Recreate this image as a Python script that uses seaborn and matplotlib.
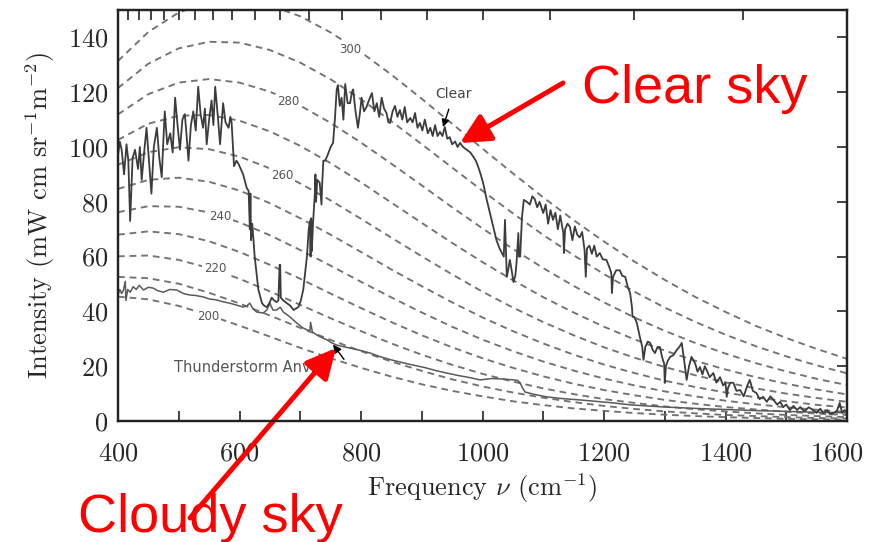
import matplotlib
matplotlib.use("Agg")
import matplotlib.pyplot as plt
import matplotlib.transforms as mtransforms
import seaborn as sns
import pandas as pd

# ---------------- data ----------------
planck_nu = [400, 450, 500, 550, 600, 650, 700, 750, 800, 850, 900, 950, 1000,
             1050, 1100, 1150, 1200, 1250, 1300, 1350, 1400, 1450, 1500, 1550, 1600]
b300 = [131.4, 142.0, 149.1, 152.9, 153.6, 151.7, 147.7, 141.8, 134.6, 126.4, 117.6, 108.5, 99.4,
        90.4, 81.6, 73.3, 65.5, 58.2, 51.5, 45.3, 39.8, 34.7, 30.3, 26.3, 22.7]
b290 = [121.5, 130.4, 136.0, 138.4, 138.1, 135.4, 130.8, 124.7, 117.4, 109.4, 101.0, 92.5, 84.0,
        75.8, 67.9, 60.5, 53.6, 47.2, 41.4, 36.2, 31.5, 27.3, 23.6, 20.3, 17.4]
b280 = [111.9, 119.3, 123.5, 124.8, 123.5, 120.2, 115.1, 108.8, 101.6, 93.9, 86.0, 78.0, 70.3,
        62.8, 55.8, 49.3, 43.3, 37.8, 32.9, 28.5, 24.6, 21.1, 18.1, 15.4, 13.1]
b270 = [102.6, 108.5, 111.4, 111.7, 109.6, 105.7, 100.4, 94.1, 87.1, 79.7, 72.3, 65.0, 58.0,
        51.4, 45.2, 39.6, 34.4, 29.8, 25.7, 22.0, 18.8, 16.0, 13.6, 11.5, 9.7]
b260 = [93.5, 98.1, 99.9, 99.2, 96.5, 92.2, 86.7, 80.5, 73.8, 66.9, 60.1, 53.5, 47.2,
        41.4, 36.1, 31.3, 26.9, 23.1, 19.7, 16.7, 14.1, 11.9, 10.0, 8.4, 7.0]
b250 = [84.7, 88.0, 88.8, 87.3, 84.1, 79.5, 74.0, 68.0, 61.7, 55.3, 49.2, 43.3, 37.8,
        32.8, 28.3, 24.2, 20.6, 17.5, 14.7, 12.4, 10.4, 8.6, 7.2, 5.9, 4.9]
b240 = [76.2, 78.4, 78.2, 76.1, 72.5, 67.8, 62.4, 56.7, 50.8, 45.1, 39.6, 34.4, 29.7,
        25.5, 21.7, 18.4, 15.5, 13.0, 10.8, 9.0, 7.4, 6.1, 5.0, 4.1, 3.3]
b230 = [68.0, 69.2, 68.2, 65.6, 61.7, 57.0, 51.9, 46.5, 41.2, 36.1, 31.3, 26.9, 22.9,
        19.4, 16.3, 13.6, 11.3, 9.4, 7.7, 6.3, 5.1, 4.2, 3.4, 2.7, 2.2]
b220 = [60.1, 60.4, 58.8, 55.8, 51.9, 47.3, 42.4, 37.5, 32.8, 28.3, 24.2, 20.5, 17.2,
        14.4, 11.9, 9.8, 8.0, 6.6, 5.3, 4.3, 3.5, 2.8, 2.2, 1.8, 1.4]
b210 = [52.6, 52.1, 50.1, 46.8, 42.9, 38.5, 34.0, 29.6, 25.5, 21.7, 18.3, 15.2, 12.6,
        10.4, 8.5, 6.9, 5.5, 4.4, 3.5, 2.8, 2.2, 1.8, 1.4, 1.1, 0.9]
b200 = [45.4, 44.4, 42.0, 38.6, 34.8, 30.8, 26.7, 22.9, 19.4, 16.2, 13.4, 11.0, 9.0,
        7.2, 5.8, 4.6, 3.7, 2.9, 2.3, 1.8, 1.4, 1.1, 0.8, 0.6, 0.5]
planck_temps = [300, 290, 280, 270, 260, 250, 240, 230, 220, 210, 200]
planck_curves = [b300, b290, b280, b270, b260, b250, b240, b230, b220, b210, b200]

clear_nu = [400, 403, 406, 410, 414, 417, 420, 424, 428, 433, 436, 439, 443, 447, 451, 455,
            459, 464, 468, 472, 475, 477, 481, 486, 490, 494, 498, 502, 506, 510, 513, 516,
            520, 524, 528, 532, 536, 540, 543, 546, 550, 554, 557, 560, 564, 568, 571, 573,
            577, 582, 585, 587, 591, 595, 598, 602, 606, 612, 615, 617, 618, 619, 621, 625,
            631, 637, 641, 645, 649, 653, 657, 661, 664, 666, 667, 668, 672, 678, 684, 689,
            697, 701, 705, 711, 714, 716, 717, 718, 719, 721, 724, 725, 726, 728, 732, 735,
            736, 738, 741, 745, 750, 754, 757, 760, 762, 765, 768, 771, 774, 778, 782, 785,
            787, 791, 795, 798, 801, 805, 809, 813, 818, 822, 826, 830, 834, 838, 842, 845,
            848, 852, 856, 860, 864, 868, 872, 876, 881, 885, 889, 893, 897, 901, 905, 910,
            914, 918, 922, 926, 930, 934, 938, 942, 946, 950, 955, 959, 963, 968, 974, 980,
            985, 989, 993, 997, 1001, 1007, 1015, 1023, 1028, 1032, 1035, 1037, 1039, 1040,
            1043, 1045, 1048, 1051, 1054, 1056, 1059, 1060, 1062, 1065, 1068, 1073, 1078,
            1082, 1086, 1090, 1094, 1100, 1104, 1108, 1112, 1116, 1120, 1124, 1128, 1133,
            1134, 1136, 1140, 1144, 1148, 1152, 1156, 1160, 1164, 1168, 1170, 1172, 1176,
            1180, 1184, 1188, 1193, 1198, 1204, 1209, 1212, 1213, 1215, 1220, 1226, 1230,
            1235, 1239, 1243, 1246, 1247, 1250, 1254, 1259, 1263, 1265, 1268, 1272, 1276,
            1280, 1284, 1288, 1292, 1296, 1299, 1300, 1302, 1305, 1309, 1314, 1320, 1324,
            1328, 1332, 1336, 1340, 1344, 1350, 1354, 1358, 1362, 1366, 1369, 1374, 1380,
            1385, 1391, 1396, 1400, 1402, 1404, 1408, 1413, 1418, 1424, 1430, 1436, 1440,
            1445, 1451, 1456, 1462, 1468, 1474, 1479, 1485, 1490, 1495, 1500, 1506, 1512,
            1518, 1523, 1530, 1537, 1544, 1550, 1556, 1561, 1567, 1572, 1577, 1583, 1588,
            1592, 1596, 1600]
clear_val = [97, 102, 99, 90, 101, 95, 73, 96, 99, 92, 100, 88, 98, 107, 95, 83,
             100, 107, 96, 89, 104, 113, 101, 105, 98, 118, 108, 99, 110, 112, 104, 95,
             108, 113, 106, 122, 112, 107, 114, 101, 110, 117, 108, 122, 112, 101, 110, 116,
             109, 107, 111, 109, 93, 95, 94, 92, 90, 85, 84, 70, 83, 66, 72, 60,
             48, 43, 42, 41.6, 43, 45, 44, 43.4, 44, 57, 57, 45, 44, 43, 42, 40.5,
             41.6, 44, 48, 60, 70, 73, 60, 74, 62, 72, 83, 90, 80, 88, 87, 79,
             86, 95, 95, 97, 100, 101.5, 110, 121, 122.6, 115, 118, 110, 123, 116, 116, 120,
             121, 113, 107, 112, 118, 113, 114.6, 117, 119.7, 113, 116, 111, 118, 114, 112.4, 109,
             108.8, 113, 115, 111, 113.5, 110, 114.6, 109, 110.6, 109, 112.4, 107, 108.8, 106, 110, 105,
             107, 104, 108, 104, 105.5, 104, 107.3, 103, 103.6, 101, 102, 100, 101.5, 100, 99, 98,
             96.4, 95, 92.7, 90, 86.9, 80.7, 73.4, 66, 63, 61.3, 60, 73.4, 60, 52.6,
             56, 58.8, 55, 50.7, 53, 57.7, 68.6, 60, 60, 74.5, 80.7, 80, 79,
             82, 81, 78, 80, 75.9, 79, 72, 77, 73.4, 76, 70, 75, 68.6,
             61.3, 70, 72, 70.8, 66, 71, 68, 67, 69, 62.4, 52.6, 63, 64,
             61, 64, 60, 61.3, 59, 58.8, 56, 54, 46.7, 52.6, 55, 55, 53,
             52.6, 49, 46.7, 41.6, 38, 38, 35.8, 30.7, 27, 22.3, 27, 29, 28.5,
             26, 24.8, 27, 27, 23, 21, 13.9, 20, 22, 23.4, 24, 26, 27,
             28.5, 22, 15, 20, 23.4, 21, 18, 19.7, 17, 20, 18.6, 16, 17.5,
             14, 16, 13, 13.9, 8.8, 12, 14, 13.9, 11, 11.3, 9, 13, 15,
             11, 10.2, 8, 8.8, 7, 9, 7.7, 6, 7, 5.1, 6, 4, 5.5,
             4, 5.1, 3.5, 5, 4, 3, 4.5, 2.9, 4, 2.5, 2.9, 3.5, 6.6,
             3, 4, 2.9]

storm_nu = [400, 403, 406, 409, 412, 413, 416, 420, 425, 430, 435, 442, 450, 458, 466, 475,
            485, 497, 508, 518, 528, 540, 551, 562, 573, 584, 595, 606, 612, 617, 622, 628,
            639, 645, 650, 655, 661, 667, 672, 683, 694, 705, 712, 716, 717, 720, 727, 735,
            744, 752, 760, 770, 782, 798, 815, 831, 850, 870, 886, 905, 925, 941, 960, 980,
            996, 1015, 1035, 1051, 1058, 1062, 1066, 1070, 1080, 1090, 1106, 1130, 1160, 1190,
            1215, 1243, 1270, 1300, 1350, 1400, 1450, 1500, 1550, 1600]
storm_val = [46, 48, 46.5, 47.8, 51, 44, 48, 47, 49, 48, 49.5, 47.8, 48.8, 48.5, 47.5, 47,
             48, 47.8, 46.5, 46, 45.8, 45.3, 44.5, 44.2, 43.5, 43, 42.3, 41.6, 42, 43, 41, 39.8,
             39.4, 40.5, 43, 40.5, 40.5, 41.5, 39.8, 38, 35.8, 33.9, 33.2, 33, 36, 32.5, 31.4, 30.5,
             29.6, 28.5, 27.7, 27.2, 26.6, 25.8, 24.8, 23.5, 22.3, 21.2, 20.4, 19.5, 18.3, 17.5, 16.6, 15.8,
             15, 15.5, 15.3, 15, 14.8, 13.9, 12, 10.6, 10, 9.5, 8.8, 8.2, 7.7, 7.1,
             6.6, 5.9, 5.5, 5.1, 4.6, 4.2, 3.8, 3.5, 3.2, 3.0]

x_major_ticks = [400, 600, 800, 1000, 1200, 1400, 1600]
x_minor_ticks = [500, 700, 900, 1100, 1300, 1500]
y_ticks = [0, 20, 40, 60, 80, 100, 120, 140]
wavelength_ticks_um = [7, 8, 9, 10, 11, 12, 13, 14, 15, 16, 17, 18, 19, 20, 21, 22, 23, 24]
label_temps = [300, 280, 260, 240, 220, 200]

# ---------------- style ----------------
sns.set_style("white")
plt.rcParams["font.family"] = ["cmr10", "DejaVu Serif"]
plt.rcParams["mathtext.fontset"] = "cm"
plt.rcParams["axes.formatter.use_mathtext"] = True

W, H = 871, 542
fig = plt.figure(figsize=(W / 100, H / 100), dpi=100)
ax = fig.add_axes([118 / W, 1 - 421 / H, (847 - 118) / W, (421 - 10) / H])

spec_df = pd.DataFrame({"nu": planck_nu * len(planck_temps),
                        "B": [v for c in planck_curves for v in c],
                        "T": [t for t, c in zip(planck_temps, planck_curves) for _ in c]})

for t in planck_temps:
    sub = spec_df[spec_df["T"] == t]
    sns.lineplot(data=sub, x="nu", y="B", ax=ax, color="#727272", linewidth=1.35,
                 linestyle=(0, (3.6, 2.6)), estimator=None, sort=False, zorder=2)

sns.lineplot(x=storm_nu, y=storm_val, ax=ax, color="#5a5a5a", linewidth=1.1,
             estimator=None, sort=False, zorder=4)
sns.lineplot(x=clear_nu, y=clear_val, ax=ax, color="#3c3c3c", linewidth=1.3,
             estimator=None, sort=False, zorder=5)

# temperature labels on the curves
label_pos = {300: (782, 135.5), 280: (680, 116.5), 260: (670, 89.5),
             240: (568, 74.5), 220: (560, 55.5), 200: (548, 38.2)}
for t in label_temps:
    lx, ly = label_pos[t]
    ax.text(lx, ly, str(t), fontsize=8.5, color="#555555", family="DejaVu Sans",
            ha="center", va="center", zorder=3,
            bbox=dict(boxstyle="square,pad=0.15", fc="white", ec="none"))

ax.annotate("Clear", xy=(935, 107.3), xytext=(953, 119.5), fontsize=10,
            family="DejaVu Sans", color="#444444", ha="center", va="center",
            arrowprops=dict(arrowstyle="-|>", color="black", lw=1.0,
                            mutation_scale=11, shrinkA=4, shrinkB=0), zorder=6)
ax.text(492, 19.7, "Thunderstorm Anvil", fontsize=10.5, family="DejaVu Sans",
        color="#555555", ha="left", va="center", zorder=6)
ax.annotate("", xy=(754, 27.9), xytext=(772, 22.5),
            arrowprops=dict(arrowstyle="-|>", color="black", lw=1.0,
                            mutation_scale=12, shrinkA=0, shrinkB=0), zorder=6)

ax.set_xlim(400, 1600)
ax.set_ylim(0, 150)
ax.set_xticks(x_major_ticks)
ax.set_xticks(x_minor_ticks, minor=True)
ax.set_yticks(y_ticks)
ax.tick_params(axis="both", which="both", direction="in", length=7, width=1.2,
               color="#222222", labelsize=19, top=False, right=True)
ax.tick_params(axis="x", which="major", pad=15)
ax.tick_params(axis="y", which="major", pad=7)
for s in ax.spines.values():
    s.set_linewidth(1.6)
    s.set_color("#222222")

ax.set_xlabel("Frequency $\\nu$ (cm$^{-1}$)", fontsize=19, labelpad=4)
ax.set_ylabel("Intensity (mW cm sr$^{-1}$m$^{-2}$)", fontsize=19, labelpad=8)

# shift the last x tick label left so it stays inside the picture
fig.canvas.draw()
last = ax.get_xticklabels()[-1]
last.set_transform(last.get_transform() +
                   mtransforms.ScaledTranslation(-10 / 100, 0, fig.dpi_scale_trans))

# top axis: wavelength ticks (micrometres), unlabeled
ax2 = ax.twiny()
ax2.set_xlim(ax.get_xlim())
ax2.set_xticks([10000.0 / w for w in wavelength_ticks_um])
ax2.set_xticklabels([])
ax2.tick_params(axis="x", direction="in", length=7, width=1.2, color="#222222")
for s in ax2.spines.values():
    s.set_linewidth(1.6)
    s.set_color("#222222")


def fp(x, y):
    return (x, H - y)


red = "#ff0000"
fig.text(582 / W, 1 - 103 / H, "Clear sky", color=red, fontsize=39,
         family="Liberation Sans", ha="left", va="baseline")
fig.text(78 / W, 1 - 532 / H, "Cloudy sky", color=red, fontsize=39,
         family="Liberation Sans", ha="left", va="baseline")
ax.annotate("", xy=fp(460, 143), xycoords="figure pixels",
            xytext=fp(563, 83), textcoords="figure pixels",
            arrowprops=dict(arrowstyle="-|>,head_length=0.9,head_width=0.45",
                            color=red, lw=3.6, mutation_scale=20,
                            shrinkA=0, shrinkB=0),
            annotation_clip=False, zorder=10)
ax.annotate("", xy=fp(336, 348), xycoords="figure pixels",
            xytext=fp(190, 518), textcoords="figure pixels",
            arrowprops=dict(arrowstyle="-|>,head_length=0.9,head_width=0.45",
                            color=red, lw=3.6, mutation_scale=20,
                            shrinkA=0, shrinkB=0),
            annotation_clip=False, zorder=10)

fig.savefig("out.png", dpi=100)
